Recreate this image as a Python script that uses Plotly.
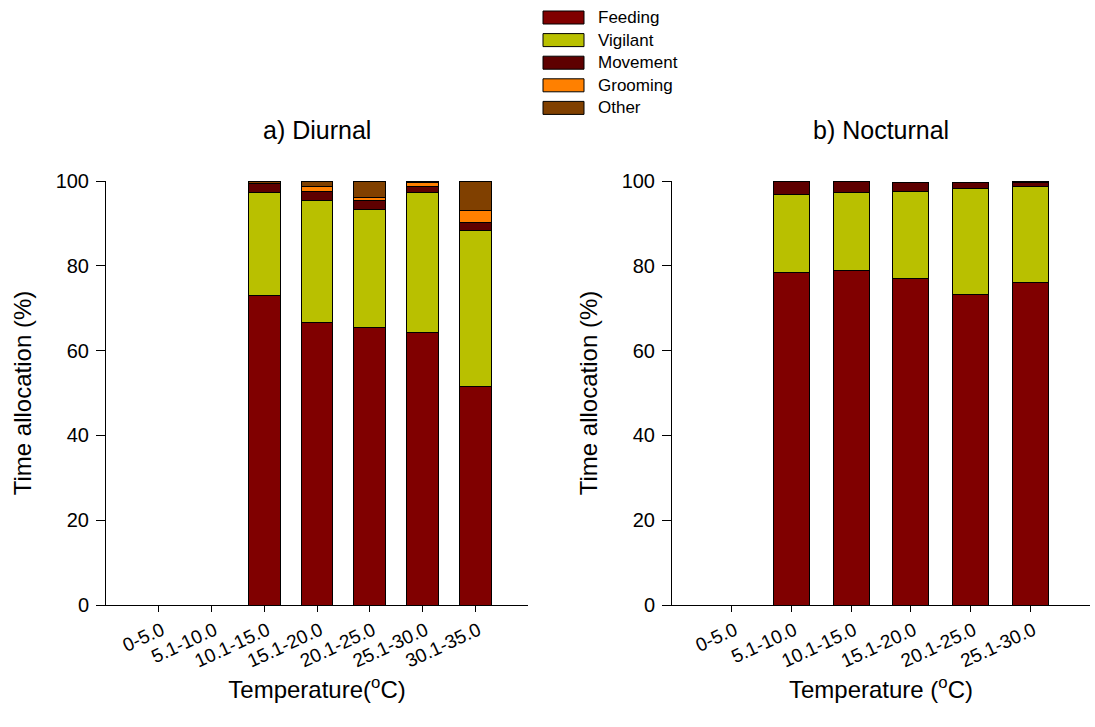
import plotly.graph_objects as go

# Temperature classes for each period
diurnal_classes = ["0-5.0", "5.1-10.0", "10.1-15.0", "15.1-20.0", "20.1-25.0", "25.1-30.0", "30.1-35.0"]
nocturnal_classes = ["0-5.0", "5.1-10.0", "10.1-15.0", "15.1-20.0", "20.1-25.0", "25.1-30.0"]

# Percentage of time in each behaviour (None = no observations)
diurnal_feeding = [None, None, 73.0, 66.7, 65.5, 64.3, 51.6]
diurnal_vigilant = [None, None, 24.4, 28.6, 27.8, 32.9, 36.8]
diurnal_movement = [None, None, 1.9, 2.3, 2.0, 1.6, 1.8]
diurnal_grooming = [None, None, 0.1, 1.2, 0.8, 0.8, 2.8]
diurnal_other = [None, None, 0.6, 1.2, 3.9, 0.4, 7.0]

nocturnal_feeding = [None, 78.4, 79.0, 77.0, 73.2, 76.0]
nocturnal_vigilant = [None, 18.5, 18.2, 20.6, 25.0, 22.8]
nocturnal_movement = [None, 3.1, 2.8, 2.0, 1.4, 0.9]
nocturnal_grooming = [None, 0.0, 0.0, 0.0, 0.0, 0.0]
nocturnal_other = [None, 0.0, 0.0, 0.0, 0.0, 0.3]

behaviours = ["Feeding", "Vigilant", "Movement", "Grooming", "Other"]
colours = {
    "Feeding": "#800000",
    "Vigilant": "#B9C000",
    "Movement": "#5E0000",
    "Grooming": "#FF8000",
    "Other": "#804000",
}

diurnal = dict(zip(behaviours, [diurnal_feeding, diurnal_vigilant, diurnal_movement,
                                diurnal_grooming, diurnal_other]))
nocturnal = dict(zip(behaviours, [nocturnal_feeding, nocturnal_vigilant, nocturnal_movement,
                                  nocturnal_grooming, nocturnal_other]))

FONT = "Arial, 'Liberation Sans', sans-serif"
W, H = 1095, 727

fig = go.Figure()
for name in behaviours:
    fig.add_trace(go.Bar(x=diurnal_classes, y=diurnal[name], name=name, width=0.6,
                         marker=dict(color=colours[name], line=dict(color="black", width=1)),
                         xaxis="x", yaxis="y", showlegend=False))
    fig.add_trace(go.Bar(x=nocturnal_classes, y=nocturnal[name], name=name, width=0.6,
                         marker=dict(color=colours[name], line=dict(color="black", width=1)),
                         xaxis="x2", yaxis="y2", showlegend=False))

def px_x(v):
    return v / W

def px_y(v):
    return 1 - v / H

left_dom = [px_x(106), px_x(528)]
right_dom = [px_x(672), px_x(1090)]
y_dom = [px_y(605), px_y(181)]

xcommon = dict(type="category", showgrid=False, zeroline=False, showline=True,
               linecolor="black", linewidth=1, ticks="outside", ticklen=6,
               tickcolor="black", tickangle=-25, automargin=False,
               ticklabelshift=3, ticklabelstandoff=0,
               tickfont=dict(family=FONT, size=19, color="black"))
ycommon = dict(range=[0, 100], tickvals=[0, 20, 40, 60, 80, 100], showgrid=False,
               zeroline=False, showline=True, linecolor="black", linewidth=1,
               ticks="outside", ticklen=9, tickcolor="black", automargin=False,
               ticklabelstandoff=3,
               tickfont=dict(family=FONT, size=20, color="black"))

axis_title_font = dict(family=FONT, size=24, color="black")

fig.update_layout(
    width=W, height=H,
    margin=dict(l=0, r=0, t=0, b=0, autoexpand=False),
    paper_bgcolor="white", plot_bgcolor="white",
    barmode="stack",
    bargap=0.4,
    xaxis=dict(xcommon, domain=left_dom, anchor="y", range=[-1, 7],
               categoryorder="array", categoryarray=diurnal_classes,
               title=dict(text="Temperature(<sup>o</sup>C)", font=axis_title_font, standoff=10)),
    yaxis=dict(ycommon, domain=y_dom, anchor="x",
               title=dict(text="Time allocation (%)", font=axis_title_font, standoff=17)),
    xaxis2=dict(xcommon, domain=right_dom, anchor="y2", range=[-1, 6],
                categoryorder="array", categoryarray=nocturnal_classes,
                title=dict(text="Temperature (<sup>o</sup>C)", font=axis_title_font, standoff=10)),
    yaxis2=dict(ycommon, domain=y_dom, anchor="x2",
                title=dict(text="Time allocation (%)", font=axis_title_font, standoff=17)),
)

# Panel titles
for text, dom in (("a) Diurnal", left_dom), ("b) Nocturnal", right_dom)):
    fig.add_annotation(text=text, xref="paper", yref="paper", x=(dom[0] + dom[1]) / 2,
                       y=px_y(130), xanchor="center", yanchor="middle", showarrow=False,
                       font=dict(family=FONT, size=25, color="black"))

# Shared legend with wide swatches
for i, name in enumerate(behaviours):
    yc = 17.5 + 22.6 * i
    fig.add_shape(type="rect", xref="paper", yref="paper",
                  x0=px_x(543), x1=px_x(584), y0=px_y(yc + 6.5), y1=px_y(yc - 6.5),
                  fillcolor=colours[name], line=dict(color="black", width=1))
    fig.add_annotation(text=name, xref="paper", yref="paper", x=px_x(596), y=px_y(yc),
                       xanchor="left", yanchor="middle", showarrow=False,
                       font=dict(family=FONT, size=17, color="black"))

fig.write_html("out.html")
